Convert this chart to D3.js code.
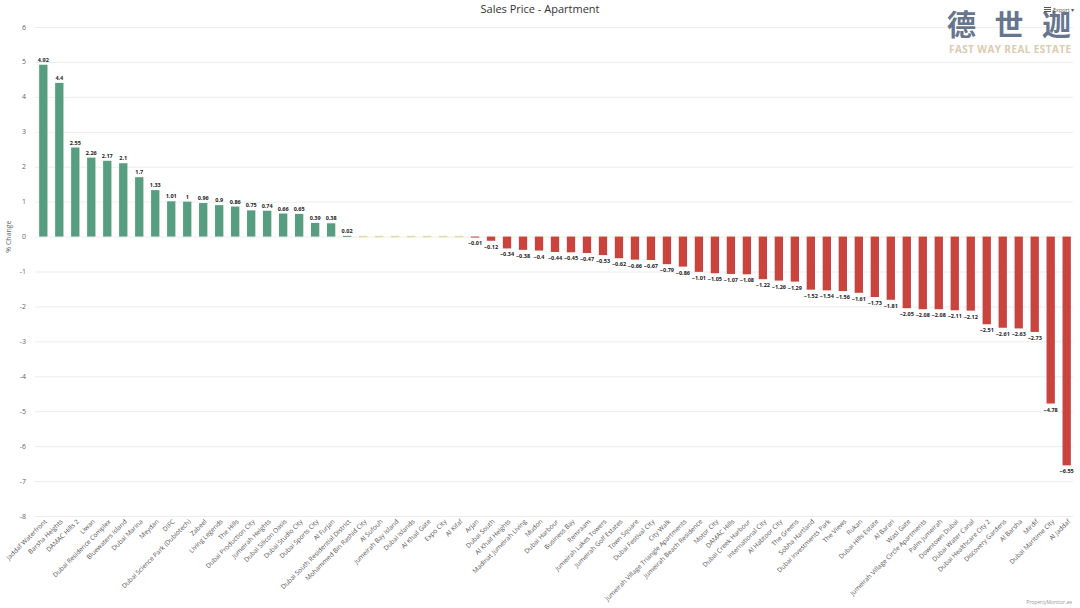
<html>
<head>
<meta charset="utf-8">
<script src="https://cdn.jsdelivr.net/npm/d3@7"></script>
<style>
  body { margin: 0; background: #fff; }
  svg text { font-family: 'Open Sans', 'Noto Sans', sans-serif; }
</style>
</head>
<body>
<div id="chart"></div>
<script>
  // areas, left to right as shown in the chart
  var areas = [
    'Jaddaf Waterfront', 'Barsha Heights', 'DAMAC Hills 2', 'Liwan', 'Dubai Residence Complex',
    'Bluewaters Island', 'Dubai Marina', 'Meydan', 'DIFC', 'Dubai Science Park (Dubiotech)',
    'Zabeel', 'Living Legends', 'The Hills', 'Dubai Production City', 'Jumeirah Heights',
    'Dubai Silicon Oasis', 'Dubai Studio City', 'Dubai Sports City', 'Al Furjan',
    'Dubai South Residential District', 'Mohammed Bin Rashid City', 'Al Sufouh',
    'Jumeirah Bay Island', 'Dubai Islands', 'Al Khail Gate', 'Expo City', 'Al Kifaf',
    'Arjan', 'Dubai South', 'Al Khail Heights', 'Madinat Jumeirah Living', 'Mudon',
    'Dubai Harbour', 'Business Bay', 'Remraam', 'Jumeirah Lakes Towers', 'Jumeirah Golf Estates',
    'Town Square', 'Dubai Festival City', 'City Walk', 'Jumeirah Village Triangle Apartments',
    'Jumeirah Beach Residence', 'Motor City', 'DAMAC Hills', 'Dubai Creek Harbour',
    'International City', 'Al Habtoor City', 'The Greens', 'Sobha Hartland',
    'Dubai Investments Park', 'The Views', 'Rukan', 'Dubai Hills Estate', 'Al Barari',
    'Wasl Gate', 'Jumeirah Village Circle Apartments', 'Palm Jumeirah', 'Downtown Dubai',
    'Dubai Water Canal', 'Dubai Healthcare City 2', 'Discovery Gardens', 'Al Barsha',
    'Mirdif', 'Dubai Maritime City', 'Al Jaddaf'
  ];

  // % change in sales price
  var changes = [
    4.92, 4.4, 2.55, 2.26, 2.17, 2.1, 1.7, 1.33, 1.01, 1,
    0.96, 0.9, 0.86, 0.75, 0.74, 0.66, 0.65, 0.39, 0.38, 0.02,
    0, 0, 0, 0, 0, 0, 0,
    -0.01, -0.12, -0.34, -0.38, -0.4, -0.44, -0.45, -0.47, -0.53, -0.62,
    -0.66, -0.67, -0.79, -0.86, -1.01, -1.05, -1.07, -1.08, -1.22, -1.26,
    -1.29, -1.52, -1.54, -1.56, -1.61, -1.73, -1.81, -2.05, -2.08, -2.08,
    -2.11, -2.12, -2.51, -2.61, -2.63, -2.73, -4.78, -6.55
  ];

  var yTicks = [6, 5, 4, 3, 2, 1, 0, -1, -2, -3, -4, -5, -6, -7, -8];

  var data = areas.map(function (a, i) { return { area: a, value: changes[i] }; });

  var width = 1080, height = 608;
  var svg = d3.select('#chart').append('svg')
      .attr('width', width)
      .attr('height', height);

  var x = d3.scaleBand()
      .domain(areas)
      .range([35, 1075])
      .paddingInner(0.48)
      .paddingOuter(0.26);

  var y = d3.scaleLinear()
      .domain([-8, 6])
      .range([516, 27]);

  // grid lines + y labels
  svg.selectAll('.grid')
    .data(yTicks)
    .enter()
    .append('line')
      .attr('x1', 35).attr('x2', 1073)
      .attr('y1', function (d) { return y(d) + 0.5; })
      .attr('y2', function (d) { return y(d) + 0.5; })
      .style('stroke', '#ececec')
      .style('stroke-width', 1);

  svg.selectAll('.ytick')
    .data(yTicks)
    .enter()
    .append('text')
      .attr('x', 26)
      .attr('y', function (d) { return y(d) + 2.5; })
      .attr('text-anchor', 'end')
      .style('font-size', '7px')
      .style('fill', '#666')
      .text(function (d) { return d; });

  svg.append('text')
    .attr('transform', 'translate(11,' + y(0) + ') rotate(-90)')
    .attr('text-anchor', 'middle')
    .style('font-size', '7px')
    .style('fill', '#666')
    .text('% Change');

  // title
  svg.append('text')
    .attr('x', 540).attr('y', 13)
    .attr('text-anchor', 'middle')
    .style('font-size', '11px')
    .style('fill', '#333')
    .text('Sales Price - Apartment');

  // bars
  svg.selectAll('.bar')
    .data(data)
    .enter()
    .append('rect')
      .attr('x', function (d) { return x(d.area); })
      .attr('width', x.bandwidth())
      .attr('y', function (d) {
        if (d.value === 0) return y(0) - 0.75;
        return d.value > 0 ? y(d.value) : y(0);
      })
      .attr('height', function (d) {
        if (d.value === 0) return 1.5;
        return Math.max(1, Math.abs(y(d.value) - y(0)));
      })
      .style('fill', function (d) {
        if (d.value === 0) return '#e6dba0';
        return d.value > 0 ? '#569e7f' : '#c8443c';
      });

  // value labels (no label on the flat ones)
  svg.selectAll('.val')
    .data(data.filter(function (d) { return d.value !== 0; }))
    .enter()
    .append('text')
      .attr('x', function (d) { return x(d.area) + x.bandwidth() / 2; })
      .attr('y', function (d) { return d.value > 0 ? y(d.value) - 3 : y(d.value) + 8; })
      .attr('text-anchor', 'middle')
      .style('font-size', '5.5px')
      .style('font-weight', 'bold')
      .style('fill', '#222')
      .text(function (d) { return d.value < 0 ? '\u2212' + Math.abs(d.value) : d.value; });

  // x labels, rotated
  svg.selectAll('.xlab')
    .data(areas)
    .enter()
    .append('text')
      .attr('transform', function (d) {
        return 'translate(' + (x(d) + x.bandwidth() / 2 + 4) + ',522) rotate(-45)';
      })
      .attr('text-anchor', 'end')
      .style('font-size', '6.5px')
      .style('fill', '#555')
      .text(function (d) { return d; });

  // credit
  svg.append('text')
    .attr('x', 1072).attr('y', 604)
    .attr('text-anchor', 'end')
    .style('font-size', '5px')
    .style('fill', '#999')
    .text('PropertyMonitor.ae');

  // logo watermark
  svg.append('text')
    .attr('x', 947).attr('y', 36)
    .attr('textLength', 124)
    .style('font-family', "'Noto Sans CJK SC', sans-serif")
    .style('font-weight', 'bold')
    .style('font-size', '29px')
    .style('fill', '#67758f')
    .text('德世迦');

  svg.append('text')
    .attr('x', 949).attr('y', 53)
    .attr('textLength', 122)
    .style('font-weight', 'bold')
    .style('font-size', '10px')
    .style('fill', '#dccbb0')
    .text('FAST WAY REAL ESTATE');

  // export button
  var ex = svg.append('g').attr('transform', 'translate(1044,7)');
  [0, 2, 4].forEach(function (dy) {
    ex.append('rect').attr('x', 0).attr('y', dy).attr('width', 7).attr('height', 1)
      .style('fill', '#555');
  });
  ex.append('text')
    .attr('x', 9).attr('y', 5)
    .style('font-size', '5.5px')
    .style('fill', '#555')
    .text('Export \u25BE');
</script>
</body>
</html>
